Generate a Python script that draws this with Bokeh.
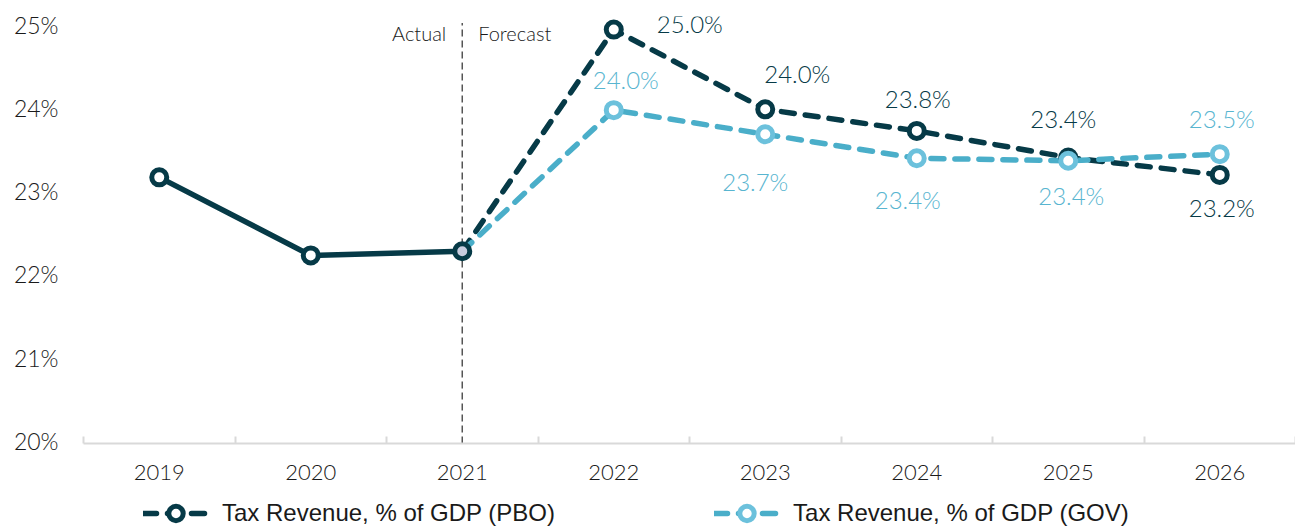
from bokeh.plotting import figure
from bokeh.layouts import column
from bokeh.models import (FixedTicker, PrintfTickFormatter, Legend, LegendItem,
                          ColumnDataSource, Range1d)
from bokeh.core.properties import value
from bokeh.embed import file_html
from bokeh.resources import INLINE

# ---------------- data ----------------
years = ["2019", "2020", "2021", "2022", "2023", "2024", "2025", "2026"]
actual_years = ["2019", "2020", "2021"]
actual_vals = [23.17, 22.23, 22.28]
forecast_years = ["2021", "2022", "2023", "2024", "2025", "2026"]
pbo_vals = [22.28, 24.95, 23.99, 23.73, 23.41, 23.20]
gov_vals = [22.28, 23.98, 23.69, 23.40, 23.37, 23.45]
pbo_labels = ["25.0%", "24.0%", "23.8%", "23.4%", "23.2%"]
gov_labels = ["24.0%", "23.7%", "23.4%", "23.4%", "23.5%"]
y_ticks = [20, 21, 22, 23, 24, 25]
pbo_name = "Tax Revenue, % of GDP (PBO)"
gov_name = "Tax Revenue, % of GDP (GOV)"

# ---------------- styling / layout ----------------
DARK = "#063a47"
LIGHT_LINE = "#4aaec9"
LIGHT_MARK = "#6cc1dc"
LIGHT_TEXT = "#58b5d0"
AXIS_GREY = "#d9d9d9"
TXT_FONT = "Lato Light, Lato"

# label offsets in screen pixels (positive dy = down)
pbo_dx = [76, 32, 1, -5, 2]
pbo_dy = [-6, -36, -32, -39, 33]
gov_dx = [12, -10, -9, 3, 2]
gov_dy = [-31, 47, 41, 35, -36]

idx = {y: i for i, y in enumerate(years)}
ax = [idx[y] for y in actual_years]
fx = [idx[y] for y in forecast_years]

Y0, Y1 = 19.964, 25.108
p = figure(width=1295, height=488, output_backend="svg", toolbar_location=None,
           x_range=Range1d(-0.5, len(years) - 0.5),
           y_range=Range1d(Y0, Y1),
           min_border_left=83, min_border_right=0, min_border_top=16,
           min_border_bottom=45)
p.outline_line_color = None
p.xgrid.visible = False
p.ygrid.visible = False

# x axis
p.xaxis.ticker = FixedTicker(ticks=list(range(len(years))),
                             minor_ticks=[i - 0.5 for i in range(len(years) + 1)])
p.xaxis.major_label_overrides = {i: y for i, y in enumerate(years)}
p.xaxis.axis_line_color = AXIS_GREY
p.xaxis.axis_line_width = 2
p.xaxis.major_tick_line_color = None
p.xaxis.minor_tick_line_color = AXIS_GREY
p.xaxis.minor_tick_line_width = 2
p.xaxis.minor_tick_in = 7
p.xaxis.minor_tick_out = 0
p.xaxis.major_label_standoff = 15
p.xaxis.major_label_text_font = TXT_FONT
p.xaxis.major_label_text_font_size = "22px"
p.xaxis.major_label_text_color = "#1a1a1a"

# y axis
p.yaxis.ticker = FixedTicker(ticks=y_ticks)
p.yaxis.formatter = PrintfTickFormatter(format="%d%%")
p.yaxis.axis_line_color = None
p.yaxis.major_tick_line_color = None
p.yaxis.minor_tick_line_color = None
p.yaxis.major_label_standoff = 19
p.yaxis.major_label_text_font = TXT_FONT
p.yaxis.major_label_text_font_size = "23px"
p.yaxis.major_label_text_color = "#1a1a1a"

# actual / forecast divider
p.segment(x0=[idx["2021"]], y0=[Y0], x1=[idx["2021"]], y1=[25.03],
          line_color="#555555", line_width=1.5, line_dash="7 4")
p.text(x=[idx["2021"]], y=[25.0], text=["Actual"], x_offset=[-16], y_offset=[8],
       text_align="right", text_baseline="middle", text_font=value(TXT_FONT),
       text_font_size="20px", text_color="#1a1a1a")
p.text(x=[idx["2021"]], y=[25.0], text=["Forecast"], x_offset=[16], y_offset=[8],
       text_align="left", text_baseline="middle", text_font=value(TXT_FONT),
       text_font_size="20px", text_color="#1a1a1a")

# forecast lines
line_kw = dict(line_width=5.5, line_dash="13 11", line_cap="round")
mk_kw = dict(size=15, marker="circle", fill_color="white", line_width=5)
p.line(fx, pbo_vals, line_color=DARK, **line_kw)
p.line(fx, gov_vals, line_color=LIGHT_LINE, **line_kw)
p.scatter(fx[1:], pbo_vals[1:], line_color=DARK, **mk_kw)
p.scatter(fx[1:], gov_vals[1:], line_color=LIGHT_MARK, **mk_kw)

# actual line
p.line(ax, actual_vals, line_color=DARK, line_width=5.5)
p.scatter(ax[:2], actual_vals[:2], line_color=DARK, **mk_kw)
p.scatter(ax[2:], actual_vals[2:], size=15, marker="circle", fill_color="#c8cddf",
          line_color=DARK, line_width=5)

# value labels
pbo_src = ColumnDataSource(dict(x=fx[1:], y=pbo_vals[1:], t=pbo_labels, dx=pbo_dx, dy=pbo_dy))
gov_src = ColumnDataSource(dict(x=fx[1:], y=gov_vals[1:], t=gov_labels, dx=gov_dx, dy=gov_dy))
p.text(x="x", y="y", text="t", x_offset="dx", y_offset="dy", source=pbo_src,
       text_align="center", text_baseline="middle", text_font=value(TXT_FONT),
       text_font_size="24px", text_color=DARK)
p.text(x="x", y="y", text="t", x_offset="dx", y_offset="dy", source=gov_src,
       text_align="center", text_baseline="middle", text_font=value(TXT_FONT),
       text_font_size="24px", text_color=LIGHT_TEXT)

# ---------------- legend strip ----------------
lf = figure(width=1295, height=43, output_backend="svg", toolbar_location=None,
            x_range=Range1d(0, 1), y_range=Range1d(0, 1),
            x_axis_type=None, y_axis_type=None, min_border=0)
lf.outline_line_color = None
lf.xgrid.visible = False
lf.ygrid.visible = False
lg_pbo_l = lf.line([-10, -9], [-10, -9], line_color=DARK, **line_kw)
lg_pbo_m = lf.scatter([-10], [-10], line_color=DARK, **mk_kw)
lg_gov_l = lf.line([-10, -9], [-10, -9], line_color=LIGHT_LINE, **line_kw)
lg_gov_m = lf.scatter([-10], [-10], line_color=LIGHT_MARK, **mk_kw)

legend = Legend(items=[LegendItem(label=pbo_name, renderers=[lg_pbo_l, lg_pbo_m]),
                       LegendItem(label=gov_name, renderers=[lg_gov_l, lg_gov_m])],
                orientation="horizontal", location=(60, 0))
legend.glyph_width = 65
legend.glyph_height = 36
legend.label_standoff = 14
legend.spacing = 159
legend.padding = 0
legend.margin = 0
legend.border_line_color = None
legend.background_fill_alpha = 0
legend.label_text_font = "Liberation Sans"
legend.label_text_font_size = "24px"
legend.label_text_color = "#1a1a1a"
lf.add_layout(legend, "center")

open("out.html", "w").write(file_html(column(p, lf, spacing=0), INLINE))
